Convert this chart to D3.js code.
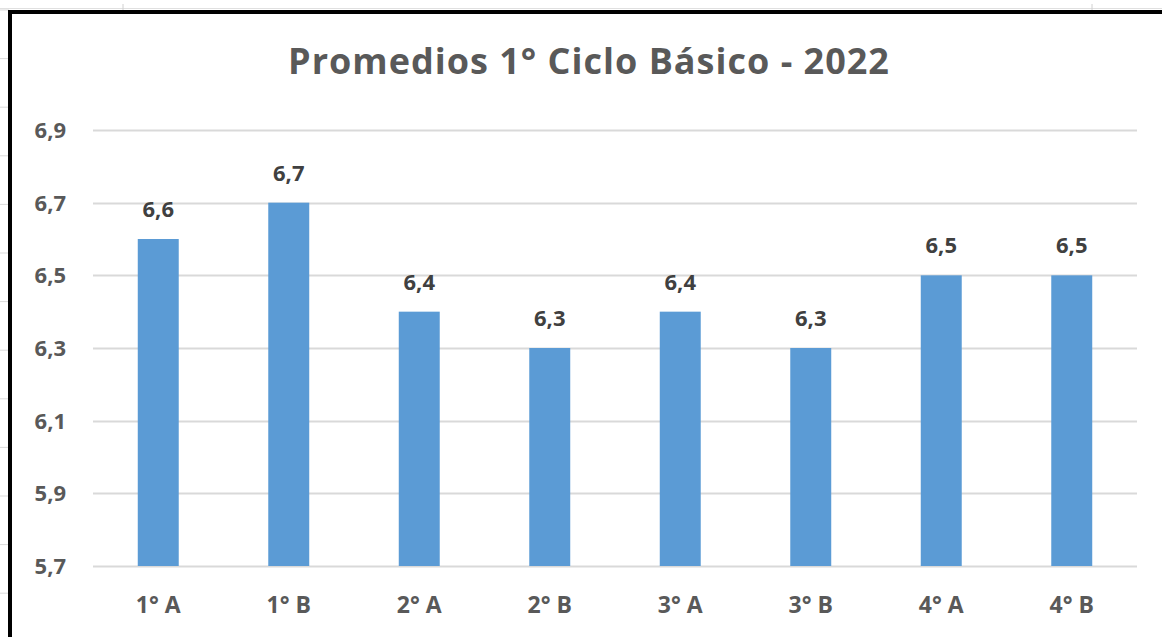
<!DOCTYPE html>
<html>
<head>
<meta charset="utf-8">
<script src="https://cdn.jsdelivr.net/npm/d3@7"></script>
<style>
  html, body { margin: 0; padding: 0; background: #fff; }
  svg { display: block; font-family: "Open Sans", "Noto Sans", sans-serif; }
</style>
</head>
<body>
<div id="chart"></div>
<script>
// datos
const cursos = ["1° A", "1° B", "2° A", "2° B", "3° A", "3° B", "4° A", "4° B"];
const promedios = [6.6, 6.7, 6.4, 6.3, 6.4, 6.3, 6.5, 6.5];
const ticksY = [5.7, 5.9, 6.1, 6.3, 6.5, 6.7, 6.9];
const titulo = "Promedios 1° Ciclo Básico - 2022";

const width = 1162, height = 637;
const margins = { top: 130, right: 25, bottom: 71, left: 93 };

const svg = d3.select("#chart").append("svg")
    .attr("width", width)
    .attr("height", height);

// fondo de planilla (líneas de celdas que asoman fuera del gráfico)
const filas = d3.range(0, 13).map(i => 10 + i * 48.6);
svg.selectAll("line.celda")
    .data(filas)
    .enter()
    .append("line")
    .attr("class", "celda")
    .attr("x1", 0).attr("x2", 9)
    .attr("y1", d => d).attr("y2", d => d)
    .attr("stroke", "#d9d9d9");
svg.append("line").attr("x1", 0).attr("x2", width).attr("y1", 8.5).attr("y2", 8.5).attr("stroke", "#e0e0e0");
[123, 1092].forEach(x => {
  svg.append("line").attr("x1", x).attr("x2", x).attr("y1", 4).attr("y2", 10).attr("stroke", "#d0d0d0");
});

// borde negro del gráfico
svg.append("line").attr("x1", 8).attr("x2", width).attr("y1", 12).attr("y2", 12)
    .attr("stroke", "#000").attr("stroke-width", 4);
svg.append("line").attr("x1", 10).attr("x2", 10).attr("y1", 10).attr("y2", height)
    .attr("stroke", "#000").attr("stroke-width", 4);

const x = d3.scaleBand()
    .domain(cursos)
    .range([margins.left, width - margins.right])
    .paddingInner(0.686)
    .paddingOuter(0.343);

const y = d3.scaleLinear()
    .domain([5.7, 6.9])
    .range([height - margins.bottom, margins.top]);

const fmt = v => d3.format(".1f")(v).replace(".", ",");

// líneas de cuadrícula
svg.append("g")
    .selectAll("line")
    .data(ticksY)
    .enter()
    .append("line")
    .attr("x1", margins.left)
    .attr("x2", width - margins.right)
    .attr("y1", d => Math.round(y(d)) + 0.5)
    .attr("y2", d => Math.round(y(d)) + 0.5)
    .attr("stroke", "#d9d9d9")
    .attr("stroke-width", 2);

// etiquetas del eje Y
svg.append("g")
    .selectAll("text")
    .data(ticksY)
    .enter()
    .append("text")
    .attr("x", 66)
    .attr("y", d => y(d))
    .attr("dy", "0.36em")
    .attr("text-anchor", "end")
    .attr("font-size", "22px")
    .attr("font-weight", "bold")
    .attr("fill", "#595959")
    .text(d => fmt(d));

// barras
svg.append("g")
    .selectAll("rect")
    .data(cursos)
    .enter()
    .append("rect")
    .attr("x", d => x(d))
    .attr("y", (d, i) => y(promedios[i]))
    .attr("width", x.bandwidth())
    .attr("height", (d, i) => y(5.7) - y(promedios[i]))
    .attr("fill", "#5b9bd5");

// valores sobre las barras
svg.append("g")
    .selectAll("text")
    .data(cursos)
    .enter()
    .append("text")
    .attr("x", d => x(d) + x.bandwidth() / 2)
    .attr("y", (d, i) => y(promedios[i]) - 22)
    .attr("text-anchor", "middle")
    .attr("font-size", "22px")
    .attr("font-weight", "bold")
    .attr("fill", "#404040")
    .text((d, i) => fmt(promedios[i]));

// etiquetas del eje X
svg.append("g")
    .selectAll("text")
    .data(cursos)
    .enter()
    .append("text")
    .attr("x", d => x(d) + x.bandwidth() / 2)
    .attr("y", 613)
    .attr("text-anchor", "middle")
    .attr("font-size", "23px")
    .attr("font-weight", "bold")
    .attr("fill", "#595959")
    .text(d => d);

// título
svg.append("text")
    .attr("x", 589)
    .attr("y", 74)
    .attr("text-anchor", "middle")
    .attr("font-size", "36px")
    .attr("letter-spacing", "1px")
    .attr("font-weight", "bold")
    .attr("fill", "#595959")
    .text(titulo);
</script>
</body>
</html>
